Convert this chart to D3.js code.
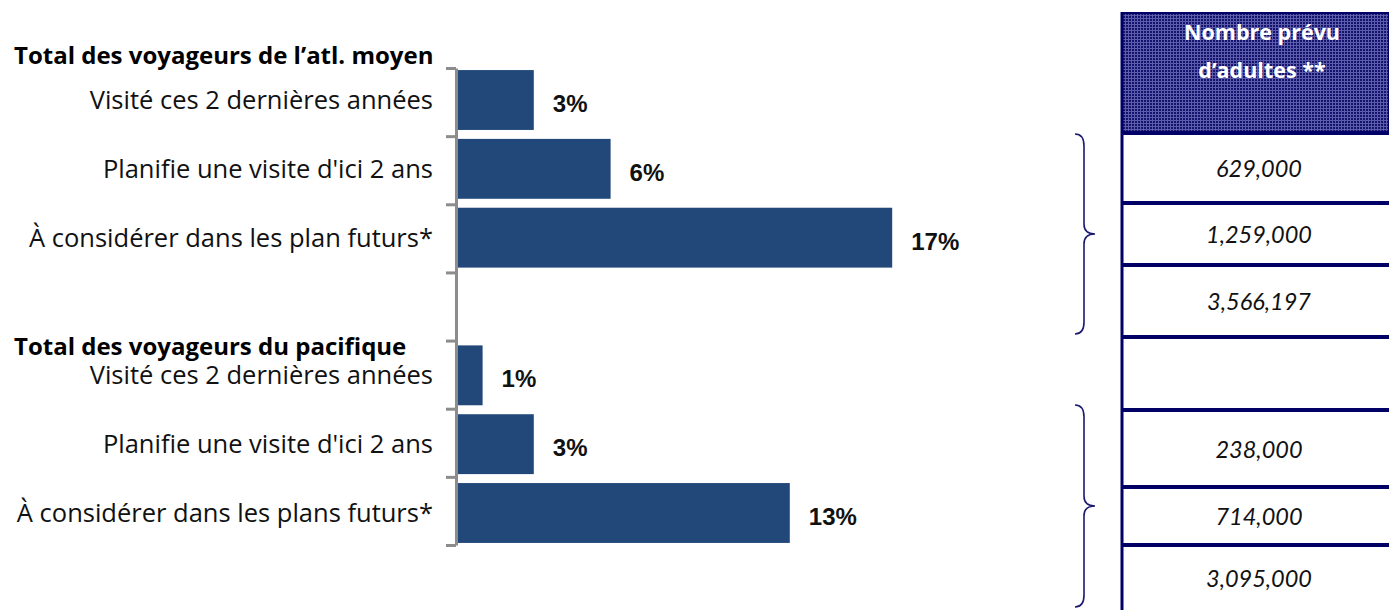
<!DOCTYPE html>
<html>
<head>
<meta charset="utf-8">
<script src="https://cdn.jsdelivr.net/npm/d3@7"></script>
<style>
    body { margin: 0; background: #fff; }
    svg { display: block; }
    .cat-label { font-family: "Open Sans", sans-serif; font-size: 25.5px; fill: #111; }
    .group-label { font-family: "Open Sans", sans-serif; font-size: 24px; font-weight: bold; fill: #000; }
    .value-label { font-family: "Liberation Sans", Arial, sans-serif; font-size: 24px; font-weight: bold; fill: #111; }
    .adults { font-family: Lato, "Open Sans", sans-serif; font-size: 23.5px; font-style: italic; fill: #111; }
    .head-label { font-family: "Open Sans", sans-serif; font-size: 21.5px; font-weight: bold; fill: #fff; }
</style>
</head>
<body>
<div id="chart"></div>
<script>
// data
const groups = ["Total des voyageurs de l\u2019atl. moyen", "Total des voyageurs du pacifique"]
const atlCategories = ["Visité ces 2 dernières années", "Planifie une visite d'ici 2 ans", "À considérer dans les plan futurs*"]
const atlValues = [3, 6, 17]
const pacCategories = ["Visité ces 2 dernières années", "Planifie une visite d'ici 2 ans", "À considérer dans les plans futurs*"]
const pacValues = [1, 3, 13]
const tableHeader = ["Nombre prévu", "d\u2019adultes **"]
const atlAdults = ["629,000", "1,259,000", "3,566,197"]
const pacAdults = ["238,000", "714,000", "3,095,000"]

const W = 1389, H = 610
const navy = "#000066"

// one slot per bar, plus the empty slot between the two groups
const rows = []
atlCategories.forEach((c, i) => rows.push({key: "a" + i, label: c, value: atlValues[i]}))
rows.push({key: "gap", label: "", value: null})
pacCategories.forEach((c, i) => rows.push({key: "p" + i, label: c, value: pacValues[i]}))

const svg = d3.select("#chart").append("svg")
    .attr("width", W)
    .attr("height", H)

// scales
const x = d3.scaleLinear().domain([0, 20]).range([457, 969])
const y = d3.scaleBand().domain(rows.map(d => d.key)).range([68, 545]).paddingInner(0.13).paddingOuter(0.03)
const yTicks = d3.scaleLinear().domain([0, rows.length]).range([68, 545])

// bars
const bars = rows.filter(d => d.value !== null)
svg.selectAll("rect.bar").data(bars).enter().append("rect")
    .attr("class", "bar")
    .attr("x", x(0))
    .attr("y", d => y(d.key))
    .attr("width", d => x(d.value) - x(0))
    .attr("height", y.bandwidth())
    .attr("fill", "#22487a")

svg.selectAll("text.value-label").data(bars).enter().append("text")
    .attr("class", "value-label")
    .attr("x", d => x(d.value) + 19)
    .attr("y", d => y(d.key) + y.bandwidth() / 2 + 12)
    .text(d => d.value + "%")

// axis with ticks on the slot boundaries
const axis = svg.append("g")
    .attr("transform", "translate(" + (x(0) - 1) + ",0)")
    .call(d3.axisLeft(yTicks).tickValues(d3.range(rows.length + 1)).tickSize(10).tickSizeOuter(0).tickFormat(""))
axis.selectAll("path, line").attr("stroke", "#8c8c8c").attr("stroke-width", 3)

// category labels
svg.selectAll("text.cat-label").data(bars).enter().append("text")
    .attr("class", "cat-label")
    .attr("text-anchor", "end")
    .attr("x", x(0) - 24)
    .attr("y", d => y(d.key) + y.bandwidth() / 2 + 9)
    .text(d => d.label)

// group headings
svg.selectAll("text.group-label").data(groups).enter().append("text")
    .attr("class", "group-label")
    .attr("x", 14)
    .attr("y", (d, i) => i === 0 ? 64 : 355)
    .text(d => d)

// table on the right
const tableX = 1122
const rowEdges = [133, 203, 265, 337, 410, 487, 545, 650]
const cells = [...atlAdults, "", ...pacAdults]

const pattern = svg.append("defs").append("pattern")
    .attr("id", "grid")
    .attr("width", 3).attr("height", 3)
    .attr("patternUnits", "userSpaceOnUse")
pattern.append("rect").attr("width", 3).attr("height", 3).attr("fill", "#14146e")
pattern.append("rect").attr("width", 3).attr("height", 1).attr("fill", "#5c5cab")
pattern.append("rect").attr("width", 1).attr("height", 3).attr("fill", "#5c5cab")

svg.append("rect")
    .attr("x", tableX).attr("y", 13)
    .attr("width", W - tableX).attr("height", rowEdges[0] - 13)
    .attr("fill", "url(#grid)")
    .attr("stroke", navy).attr("stroke-width", 2)

svg.selectAll("text.head-label").data(tableHeader).enter().append("text")
    .attr("class", "head-label")
    .attr("text-anchor", "middle")
    .attr("x", 1262)
    .attr("y", (d, i) => 40 + i * 38)
    .text(d => d)

svg.selectAll("line.row-line").data(rowEdges.slice(0, -1)).enter().append("line")
    .attr("class", "row-line")
    .attr("x1", tableX).attr("x2", W)
    .attr("y1", d => d).attr("y2", d => d)
    .attr("stroke", navy).attr("stroke-width", 4)

svg.append("line")
    .attr("x1", tableX).attr("x2", tableX)
    .attr("y1", 12).attr("y2", H)
    .attr("stroke", navy).attr("stroke-width", 3)

svg.selectAll("text.adults").data(cells).enter().append("text")
    .attr("class", "adults")
    .attr("text-anchor", "middle")
    .attr("x", 1259)
    .attr("y", (d, i) => (rowEdges[i] + Math.min(rowEdges[i + 1], H)) / 2 + 9)
    .text(d => d)

// braces
const brace = (top, bottom, xl, xm, xt) => {
    const mid = (top + bottom) / 2
    return `M${xl},${top} Q${xm},${top} ${xm},${top + 12} L${xm},${mid - 10} Q${xm},${mid} ${xt},${mid}
            Q${xm},${mid} ${xm},${mid + 10} L${xm},${bottom - 12} Q${xm},${bottom} ${xl},${bottom}`
}
svg.selectAll("path.brace").data([[134, 334], [405, 607]]).enter().append("path")
    .attr("class", "brace")
    .attr("d", d => brace(d[0], d[1], 1075, 1084, 1095))
    .attr("fill", "none")
    .attr("stroke", "#1a1a6e")
    .attr("stroke-width", 1.6)
</script>
</body>
</html>
